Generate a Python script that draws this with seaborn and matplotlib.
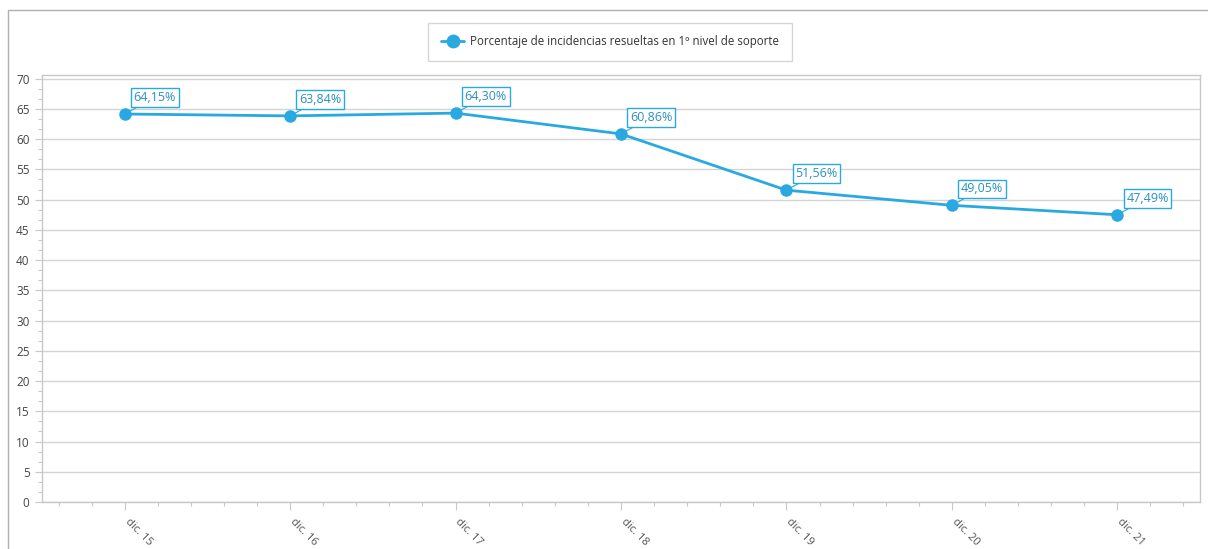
import matplotlib
matplotlib.use("Agg")
import matplotlib.pyplot as plt
import matplotlib.transforms as mtransforms
from matplotlib.lines import Line2D
from matplotlib.patches import Rectangle
from matplotlib.ticker import MultipleLocator, AutoMinorLocator
import seaborn as sns
import pandas as pd

# Monthly snapshot labels and first-level resolution percentages
periods = ["dic. 15", "dic. 16", "dic. 17", "dic. 18", "dic. 19", "dic. 20", "dic. 21"]
resolved_pct = [64.15, 63.84, 64.30, 60.86, 51.56, 49.05, 47.49]
series_name = "Porcentaje de incidencias resueltas en 1º nivel de soporte"

df = pd.DataFrame({"periodo": periods, "valor": resolved_pct})
df["pos"] = range(len(df))

sns.set_theme(style="white")
plt.rcParams["font.family"] = ["Open Sans", "DejaVu Sans"]

LINE = "#29a9e1"
LABEL_TXT = "#2a8fc4"
GRID = "#d4d4d4"
SPINE = "#c8c8c8"
TICKTXT = "#444444"

fig = plt.figure(figsize=(12.08, 5.49), dpi=100)
W, H = 1208, 549
ax = fig.add_axes([42 / W, 1 - 502 / H, (1200 - 42) / W, (502 - 75) / H])

sns.lineplot(data=df, x="pos", y="valor", ax=ax, color=LINE, linewidth=2,
             marker="o", markersize=9, markeredgewidth=0, legend=False)

ax.set_xlim(-0.5, len(periods) - 0.5)
ax.set_ylim(0, 70.6)
ax.yaxis.set_major_locator(MultipleLocator(5))
ax.yaxis.set_minor_locator(AutoMinorLocator(3))
ax.set_xticks(range(len(periods)))
ax.xaxis.set_minor_locator(MultipleLocator(0.2))
ax.set_xlabel("")
ax.set_ylabel("")

ax.grid(axis="y", which="major", color=GRID, linewidth=1)
ax.set_axisbelow(True)
for side in ["left", "bottom", "top", "right"]:
    ax.spines[side].set_color(SPINE)
    ax.spines[side].set_linewidth(1)

ax.tick_params(axis="y", which="major", length=5, width=0.8, color=SPINE,
               labelsize=8.5, labelcolor=TICKTXT, pad=4, left=True)
ax.tick_params(axis="y", which="minor", length=3, width=0.8, color=SPINE, left=True)
ax.tick_params(axis="x", which="major", length=6, width=0.8, color=SPINE,
               labelsize=8, labelcolor="#555555", pad=4, bottom=True)
ax.tick_params(axis="x", which="minor", length=3, width=0.8, color=SPINE, bottom=True)

ax.set_xticklabels(periods)
shift = mtransforms.ScaledTranslation(4 / 72, 0, fig.dpi_scale_trans)
for lbl in ax.get_xticklabels():
    lbl.set_rotation(-45)
    lbl.set_rotation_mode("anchor")
    lbl.set_ha("left")
    lbl.set_va("top")
    lbl.set_transform(lbl.get_transform() + shift)

# Value labels in boxed callouts
for x, v in zip(df["pos"], df["valor"]):
    txt = f"{v:.2f}".replace(".", ",") + "%"
    ax.annotate(txt, xy=(x, v), xytext=(9, 10), textcoords="offset pixels",
                ha="left", va="bottom", fontsize=9, color=LABEL_TXT,
                bbox=dict(boxstyle="square,pad=0.22", fc="white", ec=LINE, lw=1),
                arrowprops=dict(arrowstyle="-", color=LINE, lw=0.8,
                                shrinkA=0, shrinkB=0),
                zorder=5)

# Legend
handle = Line2D([0], [0], color=LINE, linewidth=2, marker="o", markersize=10,
                markeredgewidth=0)
leg = fig.legend([handle], [series_name], loc="center",
                 bbox_to_anchor=(610 / W, 1 - 42 / H), frameon=True,
                 fancybox=False, edgecolor="#cccccc", fontsize=8.3,
                 handlelength=2.0, handletextpad=0.5, borderpad=1.1,
                 borderaxespad=0)
leg.get_frame().set_linewidth(1)
for t in leg.get_texts():
    t.set_color("#333333")

# Outer chart frame
fig.patches.append(Rectangle((8 / W, -0.1), 1.2, 1 - 10 / H + 0.1,
                             transform=fig.transFigure, fill=False,
                             edgecolor="#b0b0b0", linewidth=1))

fig.savefig("out.png", dpi=100)
